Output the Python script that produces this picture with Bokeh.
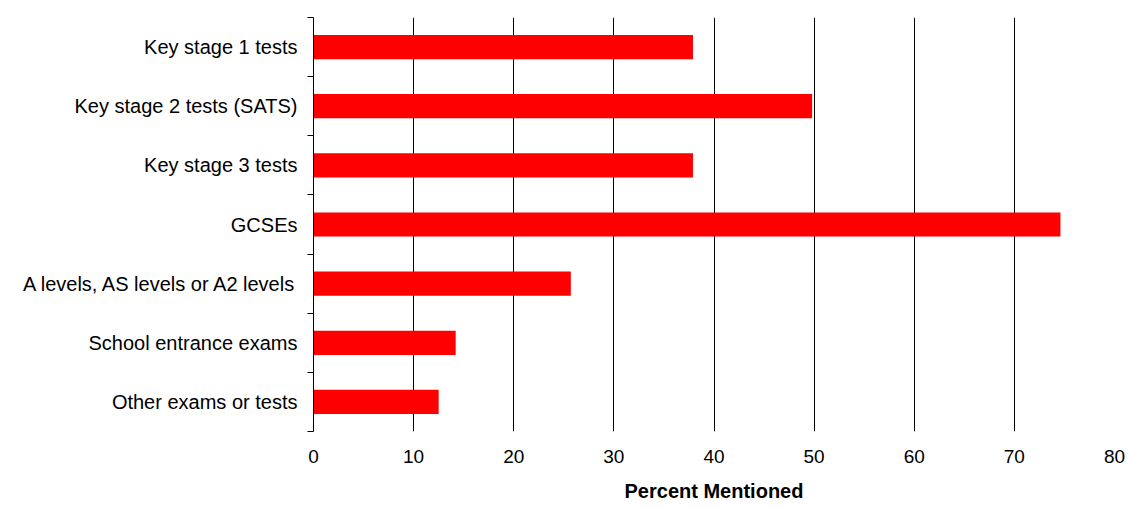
from bokeh.plotting import figure
from bokeh.models import FixedTicker, ColumnDataSource, Range1d
from bokeh.embed import file_html
from bokeh.resources import INLINE

categories = [
    "Key stage 1 tests",
    "Key stage 2 tests (SATS)",
    "Key stage 3 tests",
    "GCSEs",
    "A levels, AS levels or A2 levels",
    "School entrance exams",
    "Other exams or tests",
]
values = [37.9, 49.8, 37.9, 74.6, 25.7, 14.2, 12.5]
x_ticks = [0, 10, 20, 30, 40, 50, 60, 70, 80]
x_title = "Percent Mentioned"

n = len(categories)
ypos = [n - i - 0.5 for i in range(n)]
src = ColumnDataSource(dict(y=ypos, v=values, cat=categories))

p = figure(width=1126, height=508, output_backend="svg", toolbar_location=None,
           x_range=Range1d(0, 80), y_range=Range1d(0, n),
           min_border_left=313, min_border_right=12, min_border_top=17, min_border_bottom=77)
p.outline_line_color = None
p.background_fill_color = "white"

p.hbar(y="y", left=0, right="v", height=0.41, source=src, fill_color="#FF0000", line_color=None)

font = "Liberation Sans"

# x axis
p.xaxis.ticker = FixedTicker(ticks=x_ticks)
p.xaxis.axis_line_color = None
p.xaxis.major_tick_line_color = None
p.xaxis.minor_tick_line_color = None
p.xaxis.major_tick_out = 0
p.xaxis.major_tick_in = 0
p.xaxis.major_label_standoff = 18
p.xaxis.major_label_text_font = font
p.xaxis.major_label_text_font_size = "19px"
p.xaxis.major_label_text_color = "black"
p.xaxis.axis_label = x_title
p.xaxis.axis_label_text_font = font
p.xaxis.axis_label_text_font_size = "20px"
p.xaxis.axis_label_text_font_style = "bold"
p.xaxis.axis_label_text_color = "black"
p.xaxis.axis_label_standoff = 14

# y axis
p.yaxis.ticker = FixedTicker(ticks=ypos, minor_ticks=list(range(n + 1)))
p.yaxis.major_label_overrides = {y: c for y, c in zip(ypos, categories)}
p.yaxis.axis_line_color = "black"
p.yaxis.axis_line_width = 1
p.yaxis.major_tick_line_color = None
p.yaxis.major_tick_out = 0
p.yaxis.major_tick_in = 0
p.yaxis.minor_tick_line_color = "black"
p.yaxis.minor_tick_out = 6
p.yaxis.minor_tick_in = 0
p.yaxis.major_label_standoff = 10
p.yaxis.major_label_text_font = font
p.yaxis.major_label_text_font_size = "20px"
p.yaxis.major_label_text_color = "black"

p.ygrid.grid_line_color = None
p.xgrid.grid_line_color = "black"
p.xgrid.grid_line_width = 1

open("out.html", "w").write(file_html(p, INLINE))
